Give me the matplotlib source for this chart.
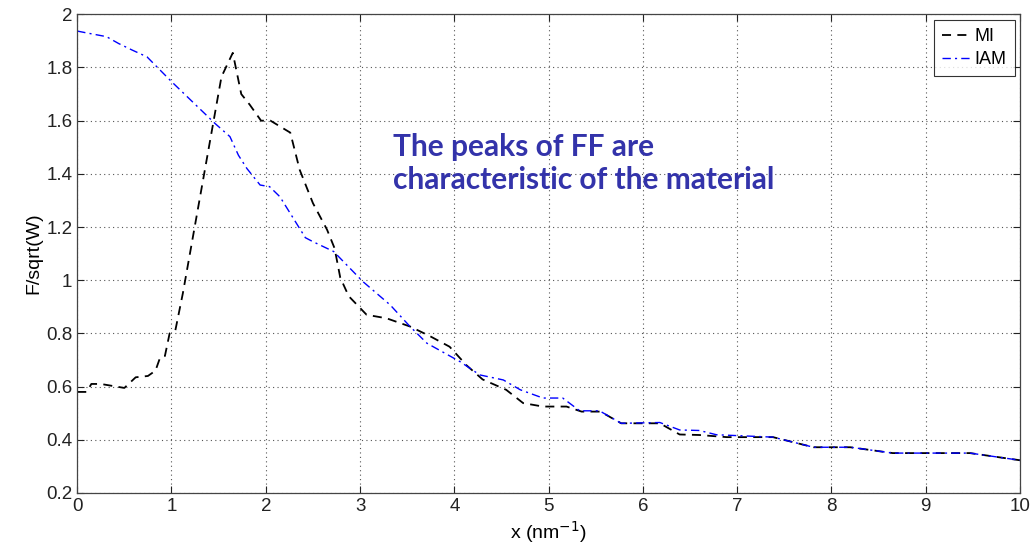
import matplotlib
matplotlib.use("Agg")
import matplotlib.pyplot as plt

mi_x = [0, 0.1, 0.15, 0.25, 0.5, 0.62, 0.75, 0.83, 0.88, 0.93, 0.98, 1.04, 1.12, 1.53, 1.65,
        1.74, 1.83, 1.95, 2.05, 2.26, 2.36, 2.5, 2.65, 2.73, 2.79, 2.88, 3.07, 3.28, 3.53,
        3.74, 3.95, 4.13, 4.3, 4.55, 4.73, 4.94, 5.19, 5.35, 5.55, 5.77, 6.18, 6.39, 6.6,
        6.89, 7.38, 7.81, 8.2, 8.65, 9.47, 10]
mi_y = [0.58, 0.58, 0.61, 0.61, 0.595, 0.635, 0.64, 0.66, 0.71, 0.715, 0.80, 0.81, 0.95,
        1.765, 1.855, 1.70, 1.66, 1.60, 1.60, 1.555, 1.415, 1.29, 1.19, 1.12, 1.01, 0.94,
        0.87, 0.857, 0.826, 0.79, 0.75, 0.68, 0.627, 0.588, 0.538, 0.525, 0.525, 0.506,
        0.506, 0.462, 0.462, 0.42, 0.418, 0.41, 0.41, 0.372, 0.372, 0.35, 0.35, 0.323]

iam_x = [0, 0.1, 0.31, 0.44, 0.58, 0.74, 1.0, 1.46, 1.62, 1.71, 1.80, 1.94, 2.04, 2.15,
         2.42, 2.5, 2.72, 3.03, 3.32, 3.53, 3.71, 4.06, 4.27, 4.52, 4.70, 4.94, 5.15, 5.33,
         5.54, 5.77, 6.18, 6.39, 6.6, 6.78, 7.38, 7.81, 8.2, 8.65, 9.47, 10]
iam_y = [1.937, 1.93, 1.916, 1.89, 1.866, 1.84, 1.747, 1.59, 1.54, 1.47, 1.42, 1.358, 1.352,
         1.314, 1.16, 1.145, 1.108, 0.995, 0.907, 0.826, 0.763, 0.694, 0.644, 0.625, 0.588,
         0.557, 0.557, 0.509, 0.509, 0.462, 0.465, 0.437, 0.435, 0.419, 0.41, 0.372, 0.372,
         0.35, 0.35, 0.323]

x_ticks = [0, 1, 2, 3, 4, 5, 6, 7, 8, 9, 10]
y_ticks = [0.2, 0.4, 0.6, 0.8, 1, 1.2, 1.4, 1.6, 1.8, 2]
y_tick_labels = ["0.2", "0.4", "0.6", "0.8", "1", "1.2", "1.4", "1.6", "1.8", "2"]

plt.rcParams['font.family'] = ['Liberation Sans', 'DejaVu Sans']

fig = plt.figure(figsize=(10.31, 5.48), dpi=100)
ax = fig.add_axes([0.0749, 0.1004, 0.9144, 0.8735])

ax.plot(mi_x, mi_y, color='black', linestyle=(0, (5, 3.5)), linewidth=1.3, label='MI')
ax.plot(iam_x, iam_y, color='#0000ff', linestyle=(0, (6, 3, 1.5, 3)), linewidth=1.0, label='IAM')

ax.set_xlim(0, 10)
ax.set_ylim(0.2, 2)
ax.set_xticks(x_ticks)
ax.set_yticks(y_ticks)
ax.set_yticklabels(y_tick_labels)
ax.tick_params(direction='in', length=5, width=0.8, top=True, right=True,
               labelsize=13.5, colors='#222222', pad=3.5)
ax.grid(True, linestyle=(0, (1, 3)), color='#555555', linewidth=0.8)
for s in ax.spines.values():
    s.set_color('#444444')
    s.set_linewidth(0.9)

ax.set_xlabel('x (nm$^{-1}$)', fontsize=14, labelpad=3)
ax.set_ylabel('F/sqrt(W)', fontsize=14, labelpad=3)

leg = ax.legend(loc='upper right', fontsize=13, frameon=True, fancybox=False,
                edgecolor='black', handlelength=1.6, handletextpad=0.2,
                borderpad=0.45, labelspacing=0.35, borderaxespad=0.3)
leg.get_frame().set_linewidth(0.8)

ax.text(3.35, 1.555, 'The peaks of FF are\ncharacteristic of the material',
        fontsize=21.5, fontweight='bold', color='#3333aa', family='Lato',
        va='top', ha='left', linespacing=1.25)

fig.savefig('out.png', dpi=100)
